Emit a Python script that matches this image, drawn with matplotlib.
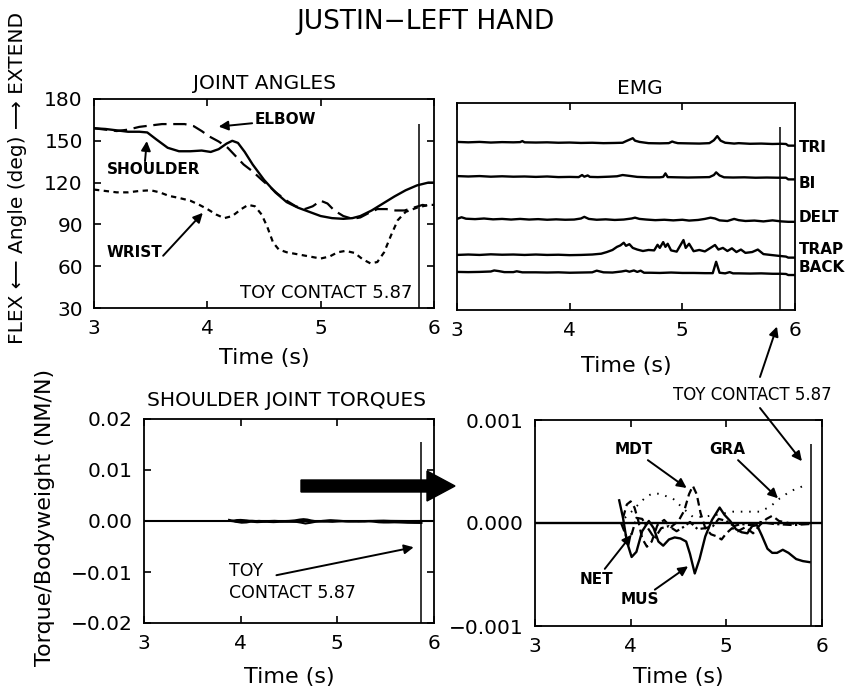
import matplotlib.pyplot as plt
from matplotlib.patches import FancyArrow

plt.rcParams['font.family'] = ['DejaVu Sans']
plt.rcParams['axes.linewidth'] = 1.3

# ---------------- dati ----------------
contact = 5.87

# angoli articolari (deg)
shoulder_t = [3.00, 3.10, 3.20, 3.30, 3.40, 3.47, 3.55, 3.65, 3.75, 3.85, 3.95, 4.03, 4.10,
              4.17, 4.22, 4.27, 4.33, 4.40, 4.50, 4.60, 4.70, 4.80, 4.90, 5.00, 5.10, 5.20,
              5.28, 5.35, 5.45, 5.55, 5.65, 5.75, 5.85, 5.95, 6.00]
shoulder = [159, 158.5, 157.5, 156.5, 156.5, 156, 151, 145, 142.5, 142.5, 143, 142, 144,
            148, 150, 148.5, 142, 133, 122, 113, 106, 102, 99, 96, 94.5, 94,
            94.5, 96, 100, 105, 110, 114.5, 118, 120, 120]

elbow_t = [3.00, 3.10, 3.20, 3.30, 3.40, 3.50, 3.60, 3.70, 3.80, 3.88, 3.95, 4.02, 4.10,
           4.18, 4.25, 4.32, 4.40, 4.48, 4.55, 4.62, 4.70, 4.78, 4.86, 4.93, 5.00, 5.06,
           5.12, 5.20, 5.28, 5.35, 5.42, 5.50, 5.58, 5.66, 5.74, 5.82, 5.90, 5.96, 6.00]
elbow = [159, 158, 157, 158, 160, 161, 162, 162, 162, 160.5, 157, 153, 149.5,
         145, 139, 133, 128, 122, 117, 112, 107, 103, 101, 103, 107, 105,
         100, 96, 94, 95, 98, 101, 101, 100, 100, 102, 104, 103, 102]

wrist_t = [3.00, 3.10, 3.20, 3.30, 3.40, 3.50, 3.58, 3.66, 3.75, 3.85, 3.93, 4.00, 4.08,
           4.15, 4.22, 4.30, 4.36, 4.42, 4.48, 4.53, 4.58, 4.63, 4.70, 4.80, 4.90, 5.00,
           5.08, 5.15, 5.22, 5.30, 5.37, 5.44, 5.50, 5.56, 5.62, 5.68, 5.75, 5.85, 5.95, 6.00]
wrist = [115, 114, 113, 113, 114, 114.5, 113, 110.5, 109, 107, 104, 101, 97,
         94.5, 96, 101, 104, 103, 97, 88, 77, 72, 70, 68.5, 67, 65.5,
         67, 70, 71, 69.5, 65, 62, 63, 70, 82, 93, 99, 102, 104, 104]

# EMG (unita' arbitrarie, 0 = fondo asse, 1 = cima)
tri_t = [3.00, 3.10, 3.20, 3.30, 3.40, 3.50, 3.56, 3.58, 3.60, 3.70, 3.80, 3.90, 4.00,
         4.10, 4.20, 4.30, 4.40, 4.47, 4.51, 4.54, 4.56, 4.58, 4.62, 4.70, 4.80, 4.88,
         4.91, 4.93, 4.96, 5.05, 5.15, 5.24, 5.28, 5.31, 5.34, 5.38, 5.46, 5.50, 5.60,
         5.70, 5.80, 5.88, 5.92, 5.94, 6.00]
tri = [0.812, 0.810, 0.812, 0.809, 0.811, 0.810, 0.811, 0.816, 0.810, 0.809, 0.810, 0.808, 0.809,
       0.807, 0.808, 0.806, 0.807, 0.808, 0.818, 0.825, 0.830, 0.818, 0.812, 0.806, 0.805, 0.806,
       0.814, 0.810, 0.806, 0.805, 0.804, 0.806, 0.820, 0.840, 0.818, 0.808, 0.804, 0.806, 0.803,
       0.804, 0.802, 0.803, 0.802, 0.794, 0.794]

bi_t = [3.00, 3.10, 3.20, 3.30, 3.40, 3.50, 3.60, 3.70, 3.80, 3.90, 4.00, 4.08, 4.11,
        4.13, 4.16, 4.18, 4.25, 4.35, 4.42, 4.47, 4.50, 4.53, 4.60, 4.70, 4.80, 4.83,
        4.85, 4.87, 4.95, 5.05, 5.15, 5.24, 5.28, 5.30, 5.33, 5.37, 5.45, 5.55, 5.65,
        5.75, 5.85, 5.92, 5.94, 6.00]
bi = [0.647, 0.645, 0.647, 0.644, 0.646, 0.644, 0.645, 0.643, 0.645, 0.642, 0.643, 0.642, 0.652,
      0.644, 0.650, 0.643, 0.642, 0.644, 0.646, 0.652, 0.650, 0.648, 0.643, 0.641, 0.641, 0.643,
      0.660, 0.642, 0.641, 0.640, 0.641, 0.642, 0.652, 0.665, 0.650, 0.641, 0.640, 0.641, 0.639,
      0.640, 0.639, 0.639, 0.631, 0.631]

delt_t = [3.00, 3.04, 3.08, 3.16, 3.24, 3.32, 3.40, 3.48, 3.56, 3.64, 3.72, 3.80, 3.88,
          3.96, 4.04, 4.10, 4.13, 4.17, 4.24, 4.32, 4.40, 4.48, 4.55, 4.58, 4.62, 4.68,
          4.76, 4.84, 4.92, 5.00, 5.06, 5.14, 5.20, 5.25, 5.29, 5.33, 5.40, 5.46, 5.50,
          5.56, 5.64, 5.72, 5.80, 5.88, 5.94, 6.00]
delt = [0.440, 0.448, 0.441, 0.439, 0.442, 0.438, 0.440, 0.437, 0.440, 0.437, 0.439, 0.436, 0.438,
        0.436, 0.437, 0.442, 0.450, 0.440, 0.436, 0.438, 0.435, 0.437, 0.442, 0.446, 0.440, 0.437,
        0.434, 0.436, 0.433, 0.436, 0.432, 0.435, 0.440, 0.446, 0.442, 0.433, 0.430, 0.440, 0.434,
        0.430, 0.432, 0.428, 0.433, 0.428, 0.426, 0.426]

trap_t = [3.00, 3.10, 3.20, 3.30, 3.40, 3.50, 3.60, 3.70, 3.80, 3.90, 4.00, 4.10, 4.20,
          4.28, 4.33, 4.38, 4.42, 4.45, 4.48, 4.50, 4.53, 4.56, 4.60, 4.65, 4.70, 4.75,
          4.78, 4.80, 4.83, 4.85, 4.87, 4.90, 4.95, 4.98, 5.01, 5.03, 5.06, 5.10, 5.15,
          5.20, 5.25, 5.29, 5.32, 5.36, 5.40, 5.44, 5.48, 5.52, 5.56, 5.62, 5.67, 5.72,
          5.80, 5.85, 5.92, 5.94, 6.00]
trap = [0.266, 0.268, 0.266, 0.269, 0.267, 0.268, 0.266, 0.268, 0.266, 0.267, 0.265, 0.266, 0.268,
        0.272, 0.280, 0.290, 0.305, 0.312, 0.325, 0.310, 0.318, 0.300, 0.292, 0.285, 0.290, 0.288,
        0.315, 0.300, 0.328, 0.305, 0.320, 0.288, 0.282, 0.310, 0.338, 0.300, 0.320, 0.284, 0.290,
        0.283, 0.300, 0.314, 0.292, 0.300, 0.285, 0.298, 0.280, 0.292, 0.276, 0.280, 0.292, 0.270,
        0.265, 0.262, 0.258, 0.253, 0.253]

back_t = [3.00, 3.10, 3.20, 3.30, 3.33, 3.37, 3.42, 3.50, 3.53, 3.58, 3.70, 3.80, 3.90,
          4.00, 4.10, 4.20, 4.24, 4.27, 4.30, 4.38, 4.46, 4.50, 4.53, 4.57, 4.60, 4.63,
          4.66, 4.72, 4.80, 4.90, 5.00, 5.10, 5.20, 5.27, 5.30, 5.33, 5.38, 5.42, 5.45,
          5.50, 5.60, 5.70, 5.80, 5.88, 5.92, 5.94, 6.00]
back = [0.184, 0.183, 0.184, 0.186, 0.191, 0.188, 0.183, 0.183, 0.187, 0.182, 0.182, 0.181, 0.182,
        0.180, 0.181, 0.182, 0.190, 0.186, 0.182, 0.181, 0.186, 0.190, 0.185, 0.191, 0.184, 0.190,
        0.180, 0.180, 0.179, 0.181, 0.179, 0.179, 0.178, 0.178, 0.233, 0.180, 0.177, 0.183, 0.177,
        0.177, 0.176, 0.177, 0.175, 0.175, 0.174, 0.169, 0.169]

emg_names = ['TRI', 'BI', 'DELT', 'TRAP', 'BACK']
emg_label_y = [0.783, 0.609, 0.449, 0.290, 0.203]

# coppie alla spalla (NM/N)
mus_t = [3.88, 3.92, 3.96, 4.01, 4.06, 4.12, 4.19, 4.24, 4.29, 4.34, 4.40, 4.46, 4.52,
         4.58, 4.62, 4.67, 4.72, 4.78, 4.85, 4.93, 4.98, 5.04, 5.10, 5.16, 5.22, 5.27,
         5.32, 5.37, 5.43, 5.48, 5.53, 5.59, 5.65, 5.73, 5.80, 5.87]
mus = [0.00022, 0.00005, -0.00018, -0.00033, -0.00028, -0.00008, 0.00002, -0.00005, -0.00018,
       -0.00022, -0.00016, -0.00014, -0.00015, -0.00018, -0.00030, -0.00049, -0.00035, -0.00013,
       0.00003, 0.00015, 0.00008, 0.00002, -0.00006, -0.00009, -0.00010, -0.00003, -0.00002,
       -0.00012, -0.00025, -0.00029, -0.00029, -0.00026, -0.00029, -0.00035, -0.00037, -0.00038]

mdt_t = [3.92, 3.96, 4.00, 4.04, 4.08, 4.12, 4.17, 4.22, 4.28, 4.35, 4.42, 4.50, 4.56,
         4.61, 4.65, 4.69, 4.73, 4.78, 4.84, 4.90, 4.95, 5.00, 5.06, 5.12, 5.20, 5.28,
         5.35, 5.42, 5.48, 5.55, 5.65, 5.75, 5.87]
mdt = [0.00005, 0.00018, 0.00021, 0.00015, 0.00002, -0.00015, -0.00023, -0.00018, -0.00002,
       0.00003, -0.00004, 0.00002, 0.00012, 0.00028, 0.00036, 0.00028, 0.00010, -0.00005,
       -0.00011, -0.00013, -0.00016, -0.00010, -0.00005, -0.00008, -0.00004, -0.00010,
       -0.00002, 0.00004, 0.00007, 0.00002, 0.00000, -0.00001, 0.00000]

gra_t = [3.94, 4.02, 4.10, 4.17, 4.24, 4.32, 4.45, 4.55, 4.65, 4.76, 4.90, 5.07, 5.20,
         5.35, 5.46, 5.56, 5.64, 5.70, 5.78, 5.84]
gra = [0.00005, 0.00012, 0.00020, 0.00026, 0.00029, 0.00028, 0.00023, 0.00014, 0.00006,
       0.00006, 0.00008, 0.00011, 0.00011, 0.00011, 0.00016, 0.00024, 0.00029, 0.00032,
       0.00035, 0.00037]

net_t = [3.90, 3.95, 4.01, 4.06, 4.12, 4.18, 4.25, 4.32, 4.40, 4.48, 4.55, 4.62, 4.70,
         4.78, 4.86, 4.92, 5.00, 5.08, 5.15, 5.25, 5.35, 5.50, 5.70, 5.87]
net = [0.00000, -0.00012, -0.00011, 0.00005, 0.00004, -0.00005, -0.00015, -0.00005, -0.00003,
       -0.00008, -0.00004, 0.00001, -0.00006, -0.00005, -0.00003, 0.00004, 0.00002, -0.00003,
       -0.00001, -0.00002, 0.00001, -0.00001, -0.00002, -0.00001]

x_ticks = [3, 4, 5, 6]
angle_ticks = [30, 60, 90, 120, 150, 180]
torque_ticks = [-0.02, -0.01, 0.0, 0.01, 0.02]
torque_labels = ['\u22120.02', '\u22120.01', '0.00', '0.01', '0.02']
zoom_ticks = [-0.001, 0.0, 0.001]
zoom_labels = ['\u22120.001', '0.000', '0.001']

# ---------------- figura ----------------
W, H = 848, 687
fig = plt.figure(figsize=(W / 100, H / 100), dpi=100)


def fp(x, y):
    # pixel dell'immagine -> frazione di figura
    return (x / W, 1 - y / H)


def box(x0, y0, x1, y1):
    return [x0 / W, 1 - y1 / H, (x1 - x0) / W, (y1 - y0) / H]


def style(ax):
    ax.set_xlim(3, 6)
    ax.set_xticks(x_ticks)
    ax.tick_params(direction='in', top=True, right=True, length=5, width=1.2,
                   labelsize=14.5, pad=8)


ap = dict(arrowstyle='-|>', color='black', lw=1.4, mutation_scale=14, shrinkA=0, shrinkB=0)
lab = dict(fontsize=11, fontweight='bold')
tfs = 14.5   # titoli dei pannelli
xfs = 16     # etichette asse x

fig.text(*fp(425, 22), 'JUSTIN\u2212LEFT HAND', fontsize=19, ha='center', va='center')
fig.text(*fp(18, 178), 'FLEX \u27f5 Angle (deg) \u27f6 EXTEND', rotation=90,
         ha='center', va='center', fontsize=14.5)
fig.text(*fp(45, 517), 'Torque/Bodyweight (NM/N)', rotation=90,
         ha='center', va='center', fontsize=16)

# --- angoli
ax1 = fig.add_axes(box(94, 99, 434, 308))
ax1.plot(shoulder_t, shoulder, color='black', lw=1.7)
ax1.plot(elbow_t, elbow, color='black', lw=1.6, dashes=(6, 3))
ax1.plot(wrist_t, wrist, color='black', lw=1.6, dashes=(2.4, 2))
ax1.vlines(contact, 30, 162, color='black', lw=1.1)
style(ax1)
ax1.set_ylim(30, 180)
ax1.set_yticks(angle_ticks)
ax1.set_xlabel('Time (s)', fontsize=xfs)
ax1.xaxis.set_label_coords(0.5, -0.19)
ax1.text(0.5, 1.072, 'JOINT ANGLES', transform=ax1.transAxes, ha='center', va='center',
         fontsize=tfs)
ax1.annotate('ELBOW', xy=(4.10, 160.2), xytext=(4.42, 165), va='center', ha='left',
             arrowprops=ap, **lab)
ax1.annotate('', xy=(3.466, 149.8), xytext=(3.45, 135.4), arrowprops=ap)
ax1.text(3.11, 129.4, 'SHOULDER', va='center', ha='left', **lab)
ax1.annotate('', xy=(3.96, 98.3), xytext=(3.61, 67.5), arrowprops=ap)
ax1.text(3.11, 70, 'WRIST', va='center', ha='left', **lab)
ax1.text(5.81, 41, 'TOY CONTACT 5.87', va='center', ha='right', fontsize=13)

# --- EMG
ax2 = fig.add_axes(box(457, 103, 795, 310))
for tt, vv in zip([tri_t, bi_t, delt_t, trap_t, back_t], [tri, bi, delt, trap, back]):
    ax2.plot(tt, vv, color='black', lw=1.7)
ax2.vlines(contact, 0, 0.886, color='black', lw=1.1)
style(ax2)
ax2.set_ylim(0, 1)
ax2.set_yticks([])
ax2.set_xlabel('Time (s)', fontsize=xfs)
ax2.xaxis.set_label_coords(0.5, -0.22)
ax2.text(0.541, 1.072, 'EMG', transform=ax2.transAxes, ha='center', va='center', fontsize=tfs)
for name, yy in zip(emg_names, emg_label_y):
    ax2.text(6.03, yy, name, ha='left', va='center', clip_on=False, **lab)

# --- coppie
ax3 = fig.add_axes(box(144, 419, 434, 623))
ax3.axhline(0, color='black', lw=1.5)
ax3.plot(mus_t, mus, color='black', lw=1.5)
ax3.plot(mdt_t, mdt, color='black', lw=1.5)
ax3.plot(net_t, net, color='black', lw=1.5)
ax3.vlines(contact, -0.02, 0.0154, color='black', lw=1.1)
style(ax3)
ax3.set_ylim(-0.02, 0.02)
ax3.set_yticks(torque_ticks)
ax3.set_yticklabels(torque_labels)
ax3.set_xlabel('Time (s)', fontsize=xfs)
ax3.xaxis.set_label_coords(0.5, -0.215)
ax3.text(0.49, 1.09, 'SHOULDER JOINT TORQUES', transform=ax3.transAxes, ha='center',
         va='center', fontsize=tfs)
ax3.text(3.88, -0.0120, 'TOY\nCONTACT 5.87', ha='left', va='center', fontsize=12.5,
         linespacing=1.25)
ax3.annotate('', xy=(5.79, -0.00515), xytext=(4.37, -0.01063), arrowprops=ap)

# --- coppie ingrandite
ax4 = fig.add_axes(box(535, 420, 822, 626))
ax4.axhline(0, color='black', lw=1.7)
ax4.plot(gra_t, gra, color='black', lw=1.4, dashes=(0.8, 3.5))
ax4.plot(mdt_t, mdt, color='black', lw=1.6, dashes=(3.5, 2))
ax4.plot(net_t, net, color='black', lw=1.6, dashes=(4, 1.5, 1, 1.5))
ax4.plot(mus_t, mus, color='black', lw=1.7)
ax4.vlines(contact + 0.015, -0.001, 0.00077, color='black', lw=1.1)
style(ax4)
ax4.set_ylim(-0.001, 0.001)
ax4.set_yticks(zoom_ticks)
ax4.set_yticklabels(zoom_labels)
ax4.set_xlabel('Time (s)', fontsize=xfs)
ax4.xaxis.set_label_coords(0.5, -0.2)
ax4.annotate('MDT', xy=(4.585, 0.00034), xytext=(4.03, 0.00071), ha='center', va='center',
             arrowprops=ap, **lab)
ax4.annotate('GRA', xy=(5.54, 0.00024), xytext=(5.01, 0.00071), ha='center', va='center',
             arrowprops=ap, **lab)
ax4.annotate('NET', xy=(4.01, -0.000114), xytext=(3.645, -0.000545), ha='center',
             va='center', arrowprops=ap, **lab)
ax4.annotate('MUS', xy=(4.60, -0.00042), xytext=(4.10, -0.000747), ha='center',
             va='center', arrowprops=ap, **lab)

# contatto giocattolo, etichetta in mezzo
fig.text(*fp(752, 395), 'TOY CONTACT 5.87', ha='center', va='center', fontsize=12)
ax2.annotate('', xy=(5.84, -0.08), xytext=fp(760, 377), textcoords='figure fraction',
             arrowprops=ap, annotation_clip=False)
ax4.annotate('', xy=(5.79, 0.0006), xytext=fp(760, 408), textcoords='figure fraction',
             arrowprops=ap, annotation_clip=False)

# freccia grossa
fig.add_artist(FancyArrow(3.01, (H - 486) / 100, 1.54, 0, width=0.12, head_width=0.30,
                          head_length=0.28, length_includes_head=True,
                          transform=fig.dpi_scale_trans, color='black'))

fig.savefig('out.png', dpi=100)
